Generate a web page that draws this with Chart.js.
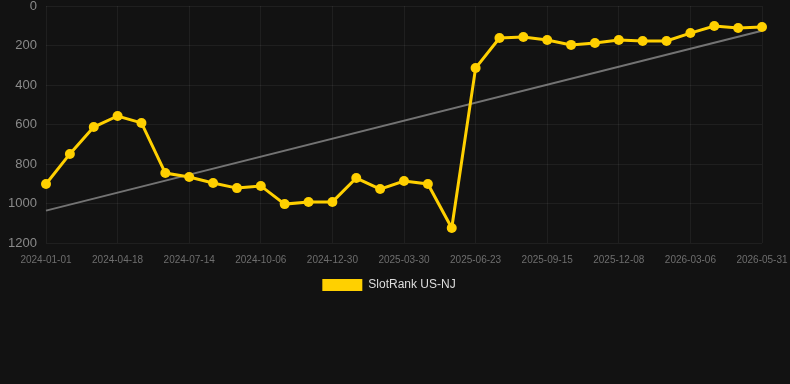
<!DOCTYPE html>
<html>
<head>
<meta charset="utf-8">
<script src="https://cdn.jsdelivr.net/npm/chart.js@4"></script>
<style>
    html, body { margin: 0; padding: 0; background: #121212; }
    #wrap { width: 790px; height: 301px; }
</style>
</head>
<body>
<div id="wrap"><canvas id="rankChart"></canvas></div>
<script>
// Dates (every third one is shown on the axis)
const dates = [
    '2024-01-01', '2024-02-06', '2024-03-13', '2024-04-18', '2024-05-17', '2024-06-15',
    '2024-07-14', '2024-08-11', '2024-09-08', '2024-10-06', '2024-11-03', '2024-12-02',
    '2024-12-30', '2025-01-29', '2025-02-28', '2025-03-30', '2025-04-27', '2025-05-25',
    '2025-06-23', '2025-07-21', '2025-08-18', '2025-09-15', '2025-10-13', '2025-11-10',
    '2025-12-08', '2026-01-06', '2026-02-05', '2026-03-06', '2026-04-03', '2026-05-02',
    '2026-05-31'
];

// SlotRank US-NJ
const rankValues = [
    901, 749, 613, 557, 592, 846, 866, 896, 922, 911, 1003, 992,
    992, 871, 927, 886, 901, 1124, 314, 162, 157, 172, 197, 187,
    172, 177, 177, 137, 101, 111, 106
];

// trend line end points
const trendStart = 1036;
const trendEnd = 125;
const trendValues = dates.map((d, i) => i === 0 ? trendStart : (i === dates.length - 1 ? trendEnd : null));

const yTicks = [0, 200, 400, 600, 800, 1000, 1200];

const ctx = document.getElementById('rankChart').getContext('2d');
new Chart(ctx, {
    type: 'line',
    data: {
        labels: dates,
        datasets: [{
            label: 'SlotRank US-NJ',
            data: rankValues,
            borderColor: '#FFD000',
            backgroundColor: '#FFD000',
            borderWidth: 3,
            pointRadius: 5,
            pointBorderWidth: 0,
            pointHoverRadius: 5,
            tension: 0
        }, {
            label: 'trend',
            data: trendValues,
            borderColor: 'rgba(140,140,140,0.8)',
            borderWidth: 2,
            pointRadius: 0,
            spanGaps: true
        }]
    },
    options: {
        responsive: true,
        maintainAspectRatio: false,
        animation: false,
        layout: { padding: { top: 0, right: 12, left: 0, bottom: 0 } },
        scales: {
            x: {
                grid: { color: 'rgba(255,255,255,0.06)', drawTicks: false },
                border: { display: false },
                afterFit: s => { s.paddingRight = 28; },
                ticks: {
                    color: '#6e6e6e',
                    font: { size: 10 },
                    maxRotation: 0,
                    autoSkip: true,
                    maxTicksLimit: 11,
                    padding: 11
                }
            },
            y: {
                reverse: true,
                min: 0,
                max: 1200,
                afterBuildTicks: axis => { axis.ticks = yTicks.map(v => ({ value: v })); },
                afterFit: s => { s.width = 46; s.paddingTop = 6; },
                grid: { color: 'rgba(255,255,255,0.06)', drawTicks: false },
                border: { display: false },
                ticks: {
                    color: '#8a8a8a',
                    font: { size: 13 },
                    padding: 9,
                    callback: v => String(v)
                }
            }
        },
        plugins: {
            legend: {
                position: 'bottom',
                labels: {
                    color: '#dddddd',
                    font: { size: 12 },
                    boxWidth: 40,
                    boxHeight: 12,
                    padding: 2,
                    generateLabels: chart => Chart.defaults.plugins.legend.labels.generateLabels(chart)
                        .filter(item => item.datasetIndex === 0)
                        .map(item => Object.assign(item, { lineWidth: 0 }))
                }
            },
            tooltip: { enabled: false }
        }
    }
});
</script>
</body>
</html>
